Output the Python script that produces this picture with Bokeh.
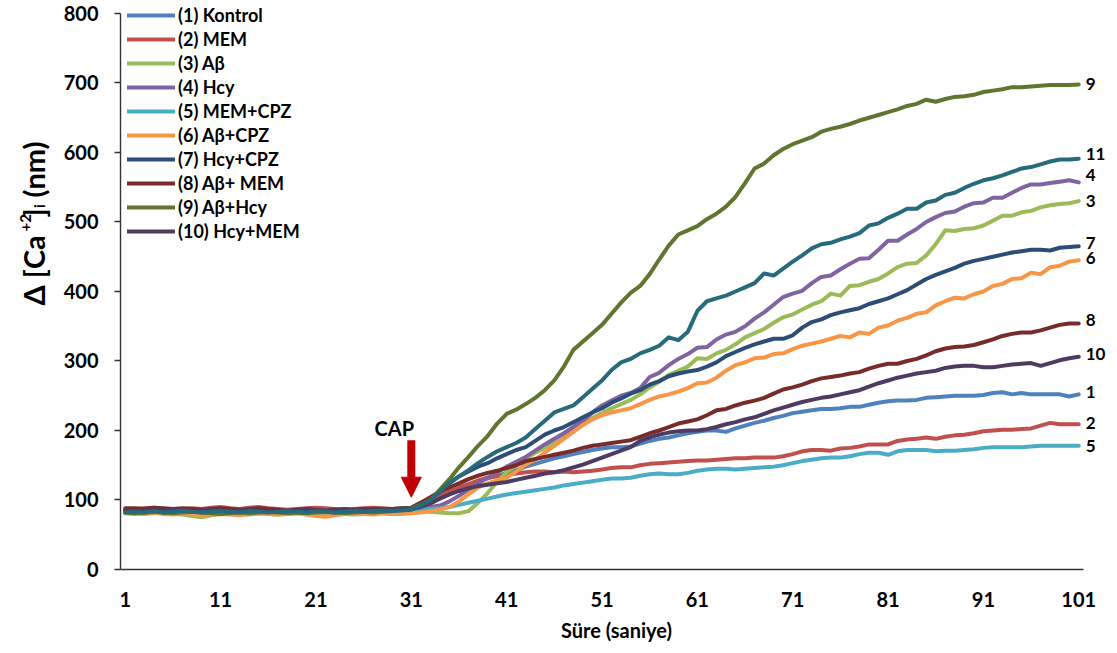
import math
from bokeh.plotting import figure
from bokeh.layouts import row
from bokeh.models import (Range1d, FixedTicker, Legend, LegendItem, Label,
                          Arrow, NormalHead)
from bokeh.core.properties import value
from bokeh.embed import file_html
from bokeh.resources import INLINE

# ---------------------------------------------------------------- data
seconds = list(range(1, 102))

kontrol = [82, 83, 84, 83, 85, 84, 83, 84, 85, 84,
           83, 84, 85, 84, 83, 84, 85, 84, 84, 85,
           84, 83, 84, 85, 85, 84, 85, 86, 85, 86,
           87, 93, 100, 106, 112, 117, 122, 127, 131, 135,
           139, 143, 148, 152, 156, 160, 163, 166, 169, 172,
           174, 176, 176, 177, 181, 185, 188, 190, 193, 196,
           198, 200, 200, 198, 203, 207, 211, 214, 218, 221,
           225, 227, 229, 231, 231, 232, 234, 234, 237, 240,
           242, 243, 243, 244, 247, 248, 249, 250, 250, 250,
           251, 254, 255, 252, 254, 252, 252, 252, 252, 249,
           252]

mem = [86, 87, 88, 89, 87, 86, 87, 88, 87, 89,
       90, 88, 87, 89, 90, 88, 87, 86, 87, 88,
       89, 88, 87, 86, 87, 88, 89, 88, 87, 88,
       88, 92, 98, 105, 112, 118, 123, 128, 132, 134,
       136, 138, 140, 141, 141, 140, 141, 140, 141, 142,
       144, 146, 147, 147, 150, 152, 153, 154, 155, 156,
       157, 157, 158, 159, 160, 160, 161, 161, 161, 163,
       166, 170, 172, 172, 171, 174, 175, 177, 180, 180,
       180, 185, 187, 188, 190, 188, 191, 193, 194, 196,
       199, 200, 201, 201, 202, 203, 207, 211, 209, 209,
       209]

abeta = [82, 81, 80, 81, 82, 80, 79, 77, 75, 78,
         80, 81, 80, 79, 81, 80, 79, 80, 81, 80,
         79, 80, 81, 80, 79, 80, 82, 81, 80, 82,
         83, 84, 83, 82, 81, 81, 84, 96, 110, 126,
         140, 150, 160, 168, 175, 182, 190, 200, 210, 218,
         225, 232, 238, 244, 252, 262, 270, 280, 286, 292,
         304, 303, 311, 316, 324, 334, 340, 346, 355, 363,
         367, 374, 381, 386, 397, 394, 408, 409, 414, 418,
         426, 435, 440, 441, 452, 468, 488, 487, 490, 491,
         495, 502, 509, 509, 514, 516, 521, 524, 526, 527,
         530]

hcy = [84, 85, 84, 86, 85, 84, 85, 86, 85, 84,
       85, 86, 87, 85, 84, 85, 86, 85, 84, 85,
       86, 85, 84, 85, 86, 85, 86, 87, 86, 87,
       88, 89, 90, 92, 98, 106, 115, 124, 132, 140,
       148, 155, 162, 171, 180, 188, 196, 205, 214, 226,
       236, 243, 250, 254, 261, 277, 283, 294, 303, 310,
       319, 320, 331, 338, 342, 350, 361, 370, 381, 392,
       397, 401, 412, 421, 423, 432, 440, 447, 448, 460,
       473, 473, 482, 490, 500, 507, 513, 515, 522, 527,
       528, 535, 535, 542, 549, 554, 554, 556, 558, 560,
       557]

mem_cpz = [83, 84, 83, 84, 85, 84, 83, 84, 85, 86,
           84, 83, 84, 85, 84, 83, 84, 85, 84, 85,
           86, 85, 84, 83, 84, 85, 84, 85, 86, 85,
           86, 86, 87, 88, 90, 93, 96, 99, 102, 105,
           108, 110, 112, 114, 116, 118, 121, 123, 125, 127,
           129, 131, 131, 132, 135, 137, 138, 137, 137, 139,
           142, 144, 145, 145, 144, 145, 146, 147, 148, 150,
           153, 156, 158, 160, 161, 161, 163, 166, 168, 168,
           165, 170, 172, 172, 172, 170, 171, 171, 172, 173,
           175, 176, 176, 176, 176, 177, 178, 178, 178, 178,
           178]

abeta_cpz = [81, 80, 81, 82, 80, 79, 81, 80, 78, 79,
             80, 79, 78, 80, 81, 80, 79, 80, 81, 79,
             77, 76, 78, 80, 81, 80, 79, 81, 80, 80,
             81, 82, 84, 86, 90, 98, 108, 118, 124, 128,
             132, 141, 151, 158, 168, 178, 188, 198, 208, 216,
             222, 226, 229, 232, 238, 244, 249, 252, 256, 261,
             268, 269, 276, 286, 294, 298, 304, 305, 310, 311,
             317, 322, 325, 328, 332, 336, 334, 341, 339, 348,
             351, 358, 362, 368, 370, 380, 386, 391, 390, 396,
             400, 408, 411, 418, 419, 427, 425, 435, 437, 443,
             445]

hcy_cpz = [84, 83, 84, 85, 84, 83, 85, 84, 83, 84,
           85, 84, 83, 84, 85, 84, 83, 84, 85, 84,
           83, 84, 85, 84, 85, 86, 85, 86, 87, 88,
           89, 96, 102, 112, 124, 134, 141, 148, 153, 160,
           166, 172, 176, 185, 194, 200, 205, 212, 219, 226,
           232, 240, 246, 253, 258, 266, 271, 278, 282, 285,
           287, 292, 298, 307, 313, 319, 324, 328, 332, 332,
           337, 348, 356, 360, 366, 370, 373, 376, 382, 386,
           390, 396, 402, 410, 418, 424, 429, 434, 440, 444,
           447, 450, 453, 456, 458, 460, 460, 459, 463, 464,
           465]

abeta_mem = [88, 88, 87, 89, 88, 87, 88, 87, 86, 87,
             88, 87, 86, 87, 88, 87, 86, 85, 86, 87,
             86, 85, 86, 87, 86, 87, 86, 87, 86, 87,
             88, 96, 104, 112, 118, 124, 130, 135, 139, 142,
             146, 150, 156, 159, 162, 165, 168, 171, 175, 178,
             180, 182, 184, 186, 191, 196, 200, 205, 210, 213,
             216, 222, 229, 231, 236, 240, 243, 247, 253, 259,
             262, 266, 271, 275, 277, 279, 282, 284, 289, 293,
             296, 296, 300, 303, 308, 314, 318, 320, 321, 323,
             327, 331, 336, 339, 341, 341, 344, 348, 352, 354,
             354]

abeta_hcy = [82, 81, 82, 83, 82, 81, 82, 83, 82, 81,
             80, 81, 82, 81, 82, 83, 82, 81, 82, 81,
             82, 83, 82, 81, 82, 83, 82, 83, 84, 86,
             88, 93, 100, 115, 130, 147, 162, 178, 192, 210,
             224, 230, 238, 247, 258, 272, 292, 316, 328, 340,
             352, 368, 384, 398, 408, 425, 446, 466, 482, 488,
             494, 504, 512, 522, 536, 556, 577, 584, 596, 605,
             612, 617, 622, 630, 634, 637, 641, 646, 650, 654,
             658, 662, 667, 670, 676, 673, 677, 680, 681, 683,
             687, 689, 691, 694, 694, 695, 696, 697, 697, 697,
             698]

hcy_mem = [85, 84, 85, 86, 85, 86, 85, 84, 85, 86,
           85, 84, 85, 86, 85, 84, 83, 84, 85, 86,
           85, 84, 85, 86, 85, 86, 87, 86, 85, 86,
           87, 90, 95, 102, 108, 113, 117, 120, 122, 124,
           126, 129, 132, 135, 138, 140, 143, 147, 151, 156,
           161, 166, 171, 176, 185, 190, 194, 197, 199, 200,
           200, 202, 205, 209, 212, 216, 219, 224, 229, 233,
           237, 241, 244, 247, 249, 252, 255, 258, 263, 268,
           272, 276, 279, 282, 284, 286, 290, 292, 293, 293,
           291, 291, 293, 295, 296, 297, 293, 297, 301, 304,
           306]

series_11 = [82, 83, 82, 84, 82, 83, 85, 83, 82, 83,
             84, 83, 82, 84, 83, 82, 83, 84, 83, 82,
             84, 83, 82, 83, 84, 83, 84, 85, 84, 85,
             86, 92, 100, 112, 125, 134, 143, 153, 162, 170,
             176, 182, 190, 202, 214, 226, 231, 236, 248, 260,
             272, 287, 298, 303, 311, 316, 322, 334, 330, 342,
             372, 386, 390, 394, 400, 406, 412, 426, 423, 433,
             443, 452, 462, 468, 470, 475, 479, 484, 495, 498,
             506, 512, 519, 519, 528, 531, 539, 542, 549, 555,
             560, 563, 567, 572, 577, 579, 583, 587, 590, 590,
             591]

series = [kontrol, mem, abeta, hcy, mem_cpz, abeta_cpz,
          hcy_cpz, abeta_mem, abeta_hcy, hcy_mem, series_11]
legend_names = ["(1) Kontrol", "(2) MEM", "(3) Aβ", "(4) Hcy",
                "(5) MEM+CPZ", "(6) Aβ+CPZ", "(7) Hcy+CPZ",
                "(8) Aβ+ MEM", "(9) Aβ+Hcy", "(10) Hcy+MEM"]
end_tags = ["1", "2", "3", "4", "5", "6", "7", "8", "9", "10", "11"]

x_ticks = [1, 11, 21, 31, 41, 51, 61, 71, 81, 91, 101]
y_ticks = [0, 100, 200, 300, 400, 500, 600, 700, 800]
CAP_AT = 31          # second at which CAP was applied

# ---------------------------------------------------------------- style
colors = ["#4F81BD", "#C0504D", "#9BBB59", "#8064A2", "#4BACC6",
          "#F79646", "#2C4D75", "#772C2A", "#5F7530", "#4D3B62",
          "#276A7C"]
tag_nudge = [-2, -1, 0, -7, 0, -2, -3, -3, 0, -3, -5]   # px, end tags
FONT = "Lato"
INK = "#000000"
W, H = 1117, 653
TITLE_W = 60          # strip that carries the rotated y-axis title

p = figure(width=W - TITLE_W, height=H, output_backend="svg",
           toolbar_location=None,
           x_range=Range1d(0.5, 104.54), y_range=Range1d(0, 818.7),
           min_border_left=120 - TITLE_W, min_border_right=5,
           min_border_top=0, min_border_bottom=84)
p.outline_line_color = None
p.xgrid.visible = False
p.ygrid.visible = False
p.background_fill_color = "white"
p.border_fill_color = "white"

renderers = []
for vals, col in zip(series, colors):
    r = p.line(seconds, vals, line_color=col, line_width=4,
               line_join="round", line_cap="round")
    renderers.append(r)

# series numbers at the right end of each trace
p.text(x=[seconds[-1]] * len(series), y=[s[-1] for s in series],
       text=end_tags, x_offset=7, y_offset=tag_nudge,
       text_font=value(FONT), text_font_style="bold",
       text_font_size="17px", text_color=INK,
       text_align="left", text_baseline="middle")

# axes
for ax in (p.xaxis[0], p.yaxis[0]):
    ax.axis_line_color = "#333333"
    ax.axis_line_width = 1.4
    ax.major_tick_line_color = "#333333"
    ax.major_tick_line_width = 1.4
    ax.minor_tick_line_color = None
    ax.major_tick_in = 0
    ax.major_label_text_font = FONT
    ax.major_label_text_font_style = "bold"
    ax.major_label_text_font_size = "20px"
    ax.major_label_text_color = INK

p.xaxis.ticker = FixedTicker(ticks=x_ticks)
p.xaxis.bounds = (0.5, 101.5)
p.xaxis.major_tick_out = 0
p.xaxis.major_label_standoff = 22
p.xaxis.axis_label = "Süre (saniye)"
p.xaxis.axis_label_text_font = FONT
p.xaxis.axis_label_text_font_style = "bold"
p.xaxis.axis_label_text_font_size = "20px"
p.xaxis.axis_label_text_color = INK
p.xaxis.axis_label_standoff = 8

p.yaxis.ticker = FixedTicker(ticks=y_ticks)
p.yaxis.bounds = (0, 800)
p.yaxis.major_tick_out = 6
p.yaxis.major_label_standoff = 16

# CAP marker
p.add_layout(Label(x=CAP_AT, y=204, text="CAP", x_offset=-17,
                   text_font=FONT, text_font_style="bold",
                   text_font_size="20px", text_color=INK,
                   text_align="center", text_baseline="middle"))
p.add_layout(Arrow(x_start=CAP_AT, y_start=186, x_end=CAP_AT, y_end=104,
                   line_color="#C00000", line_width=8,
                   end=NormalHead(size=20, fill_color="#C00000",
                                  line_color="#C00000", line_width=1)))

# legend
legend = Legend(items=[LegendItem(label=n, renderers=[r])
                       for n, r in zip(legend_names, renderers[:10])],
                location=(7, 327), orientation="vertical",
                glyph_width=48, glyph_height=18, label_height=22,
                label_standoff=3, spacing=2, padding=0, margin=0,
                background_fill_alpha=0, border_line_color=None,
                label_text_font=FONT, label_text_font_style="bold",
                label_text_font_size="18px", label_text_color=INK)
p.add_layout(legend)

# ------------------------------------------- rotated y-axis title strip
# no axes at all, so the frame fills the strip and 1 unit == 1 px
t = figure(width=TITLE_W, height=H, output_backend="svg",
           toolbar_location=None,
           x_axis_location=None, y_axis_location=None,
           x_range=Range1d(0, TITLE_W), y_range=Range1d(0, H),
           min_border=0)
t.grid.visible = False
t.outline_line_color = None
t.background_fill_color = "white"
t.border_fill_color = "white"

# Δ [Ca+2]i (nm): main text, raised "+2", lowered "i".
# Each piece: text, font px, baseline shift (px), start height (px from top)
pieces = [("Δ [Ca", 29, 0, 350), ("+2", 15, -8, 265), ("]", 29, 0, 249),
          ("i", 15, 5, 238), ("(nm)", 29, 0, 226)]
base_x = 33
for txt, size, shift, top_px in pieces:
    t.text(x=[base_x + shift], y=[H - top_px], text=[txt],
           angle=math.pi / 2,
           text_font=value(FONT), text_font_style="bold",
           text_font_size=f"{size}px", text_color=INK,
           text_align="left", text_baseline="alphabetic")

layout = row(t, p)
open("out.html", "w").write(file_html(layout, INLINE))
